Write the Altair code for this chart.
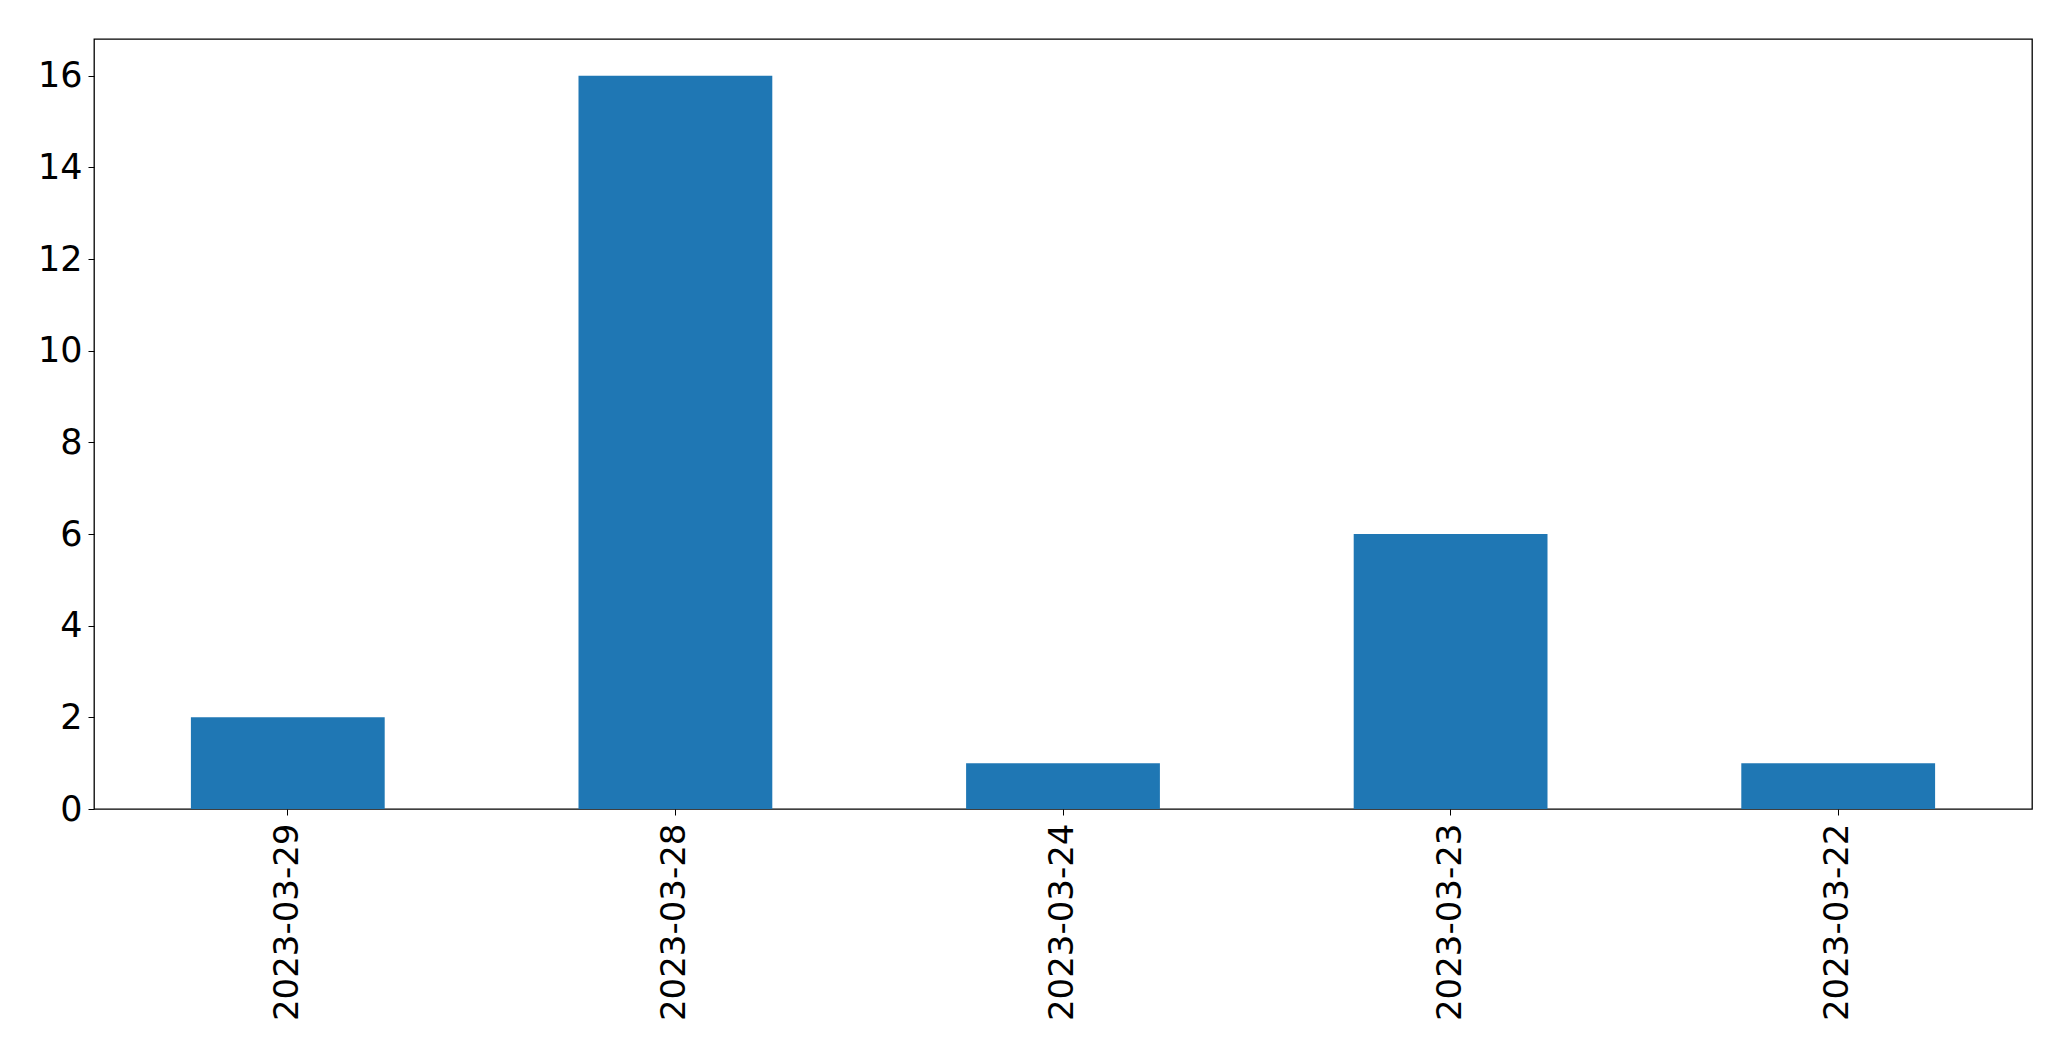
import altair as alt
import pandas as pd

dates = ["2023-03-29", "2023-03-28", "2023-03-24", "2023-03-23", "2023-03-22"]
counts = [2, 16, 1, 6, 1]
y_ticks = [0, 2, 4, 6, 8, 10, 12, 14, 16]

df = pd.DataFrame({"date": dates, "count": counts})

FONT = "DejaVu Sans"

chart = (
    alt.Chart(df)
    .mark_bar(color="#1f77b4")
    .encode(
        x=alt.X(
            "date:N",
            sort=dates,
            scale=alt.Scale(paddingInner=0.5, paddingOuter=0.25),
            axis=alt.Axis(
                title=None,
                labelAngle=-90,
                labelAlign="right",
                labelBaseline="middle",
                labelFontSize=34,
                labelFont=FONT,
                labelColor="black",
                labelPadding=8,
                labelLimit=0,
                tickSize=6,
                tickColor="black",
                domain=False,
                grid=False,
            ),
        ),
        y=alt.Y(
            "count:Q",
            scale=alt.Scale(domain=[0, 16.8], nice=False, zero=True),
            axis=alt.Axis(
                title=None,
                values=y_ticks,
                format="d",
                labelFontSize=35,
                labelFont=FONT,
                labelColor="black",
                labelPadding=6,
                tickSize=6,
                tickColor="black",
                domain=False,
                grid=False,
            ),
        ),
    )
    .properties(
        width=1938,
        height=770,
        background="white",
        autosize=alt.AutoSizeParams(type="none"),
        padding={"left": 86, "top": 31, "right": 30, "bottom": 240},
    )
    .configure_view(stroke="black", strokeWidth=1.3)
)

chart.save("out.html", embed_options={"renderer": "svg", "actions": False})
